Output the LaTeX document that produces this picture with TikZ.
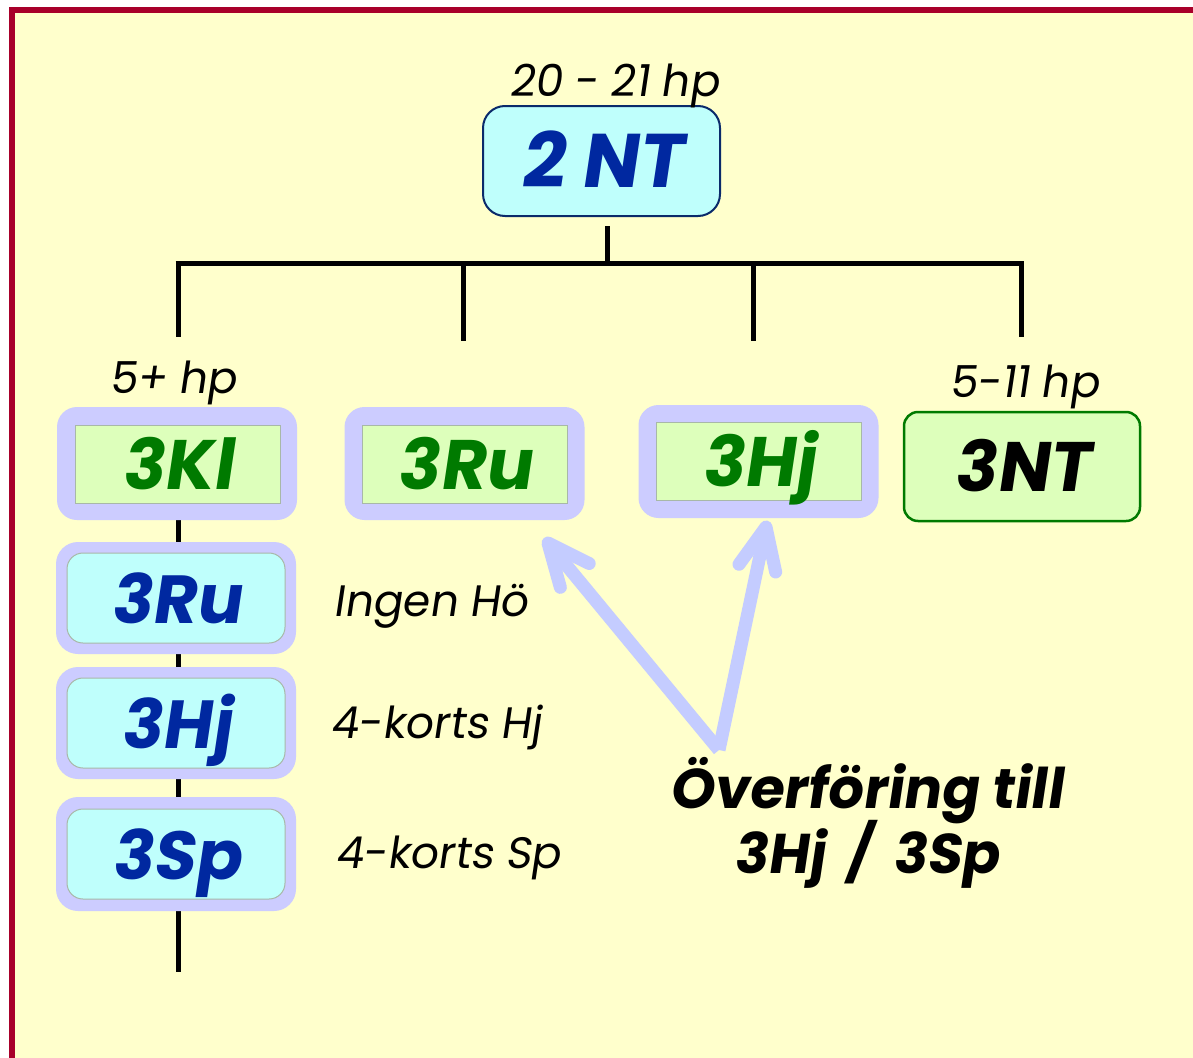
\documentclass[tikz,border=0pt]{standalone}
\usepackage{fontspec}
\newfontfamily\comic[FakeSlant=0.15]{Poppins}
\usetikzlibrary{calc,backgrounds}
\definecolor{bg}{HTML}{FFFFCC}
\definecolor{framec}{HTML}{A8002A}
\definecolor{lav}{HTML}{CCCCFF}
\definecolor{lgreen}{HTML}{DDFFBB}
\definecolor{cyanf}{HTML}{BFFFFC}
\definecolor{navy}{HTML}{0A2A6A}
\definecolor{bluet}{HTML}{0028A0}
\definecolor{greent}{HTML}{007A00}
\definecolor{arrowc}{HTML}{C4CCFF}
\definecolor{innerb}{HTML}{A8B8A8}
\tikzset{
  outerbox/.style={fill=lav, rounded corners=20pt, minimum width=240pt, minimum height=113pt, inner sep=0pt},
  greeninner/.style={fill=lgreen, draw=innerb, line width=1pt, minimum width=205pt, minimum height=78pt, inner sep=0pt, text=greent, text height=50pt, text depth=0pt, font=\comic\bfseries\fontsize{70}{80}\selectfont},
  cyaninner/.style={fill=cyanf, draw=innerb, line width=1pt, rounded corners=16pt, minimum width=218pt, minimum height=90pt, inner sep=0pt, text=bluet, text height=50pt, text depth=0pt, font=\comic\bfseries\fontsize{68}{80}\selectfont},
  lbl/.style={font=\comic\fontsize{44}{50}\selectfont, inner sep=0pt, anchor=base},
  lblw/.style={font=\comic\fontsize{44}{50}\selectfont, inner sep=0pt, anchor=base west},
  big/.style={font=\comic\bfseries\fontsize{56}{60}\selectfont, inner sep=0pt, anchor=base},
  tree/.style={line width=5pt, black},
  shaft/.style={line width=13pt, arrowc},
  barb/.style={line width=13pt, arrowc, line cap=round, line join=round}
}
\begin{document}
\begin{tikzpicture}[x=1pt,y=-1pt]
\useasboundingbox (0,0) rectangle (1193,1057);
\begin{scope}[on background layer]
  \draw[framec, line width=6pt, fill=bg] (12,10) rectangle (1230,1090);
\end{scope}

% root
\node[fill=cyanf, draw=navy, line width=2pt, rounded corners=22pt, minimum width=237pt, minimum height=110pt, inner sep=0pt,
      text=bluet, text height=52pt, text depth=0pt, font=\comic\bfseries\fontsize{76}{80}\selectfont] (root) at (601.5,161) {2 NT};
\node[lbl] (rootlbl) at (614,96) {20 - 21 hp};

% level 2
\node[outerbox] (klo) at (177,463.5) {};
\node[greeninner] (kl) at (177.5,464) {3Kl};
\node[outerbox] (ruo) at (464.5,463.5) {};
\node[greeninner] (ru) at (464.5,464) {3Ru};
\node[outerbox] (hjo) at (758.5,461.5) {};
\node[greeninner] (hj) at (758.5,461) {3Hj};
\node[fill=lgreen, draw=greent, line width=2.5pt, rounded corners=14pt, minimum width=236pt, minimum height=109pt, inner sep=0pt,
      text=black, text height=50pt, text depth=0pt, font=\comic\bfseries\fontsize{70}{80}\selectfont] (nt) at (1022,466.5) {3NT};
\node[lbl] (l5) at (173,393) {5+ hp};
\node[lbl] (l511) at (1024,397) {5-11 hp};

% left column
\node[outerbox, minimum height=112pt, rounded corners=22pt] (ru2o) at (176,598) {};
\node[cyaninner] (ru2) at (176,598) {3Ru};
\node[outerbox, minimum height=112pt, rounded corners=22pt] (hj2o) at (176,723) {};
\node[cyaninner] (hj2) at (176,723) {3Hj};
\node[outerbox, minimum height=114pt, rounded corners=22pt] (sp2o) at (176,854) {};
\node[cyaninner] (sp2) at (176,854) {3Sp};
\node[lblw] (t1) at (333,616) {Ingen Hö};
\node[lblw] (t2) at (330,738) {4-korts Hj};
\node[lblw] (t3) at (335,868) {4-korts Sp};

% tree
\coordinate (r0) at (607,226);
\coordinate (r1) at (607,263);
\coordinate (b1) at (178,263);
\coordinate (b2) at (463,263);
\coordinate (b3) at (753,263);
\coordinate (b4) at (1021,263);
\coordinate (e1) at (178,337);
\coordinate (e2) at (463,341);
\coordinate (e3) at (753,341);
\coordinate (e4) at (1021,337);
\draw[tree] (r0) -- (r1);
\draw[tree] ([xshift=-2.5pt]b1) -- ([xshift=2.5pt]b4);
\draw[tree] (b1) -- (e1);
\draw[tree] (b2) -- (e2);
\draw[tree] (b3) -- (e3);
\draw[tree] (b4) -- (e4);
\coordinate (lend) at (178,972);
\begin{scope}[on background layer]
  \draw[tree] (klo.south -| lend) -- (lend);
\end{scope}

% transfer arrows
\coordinate (src) at (719,750);
\coordinate (tip1) at (548,543);
\coordinate (tip2) at (766,527);
\draw[shaft] (src) -- (tip1);
\draw[shaft] (src) -- (tip2);
\draw[barb] ($(tip1)!46pt!24:(src)$) -- (tip1) -- ($(tip1)!46pt!-24:(src)$);
\draw[barb] ($(tip2)!46pt!24:(src)$) -- (tip2) -- ($(tip2)!46pt!-24:(src)$);
\node[big] (ov1) at (866,808) {Överföring till};
\node[big] (ov2) at (866,873) {3Hj \,/\, 3Sp};
\end{tikzpicture}
\end{document}
